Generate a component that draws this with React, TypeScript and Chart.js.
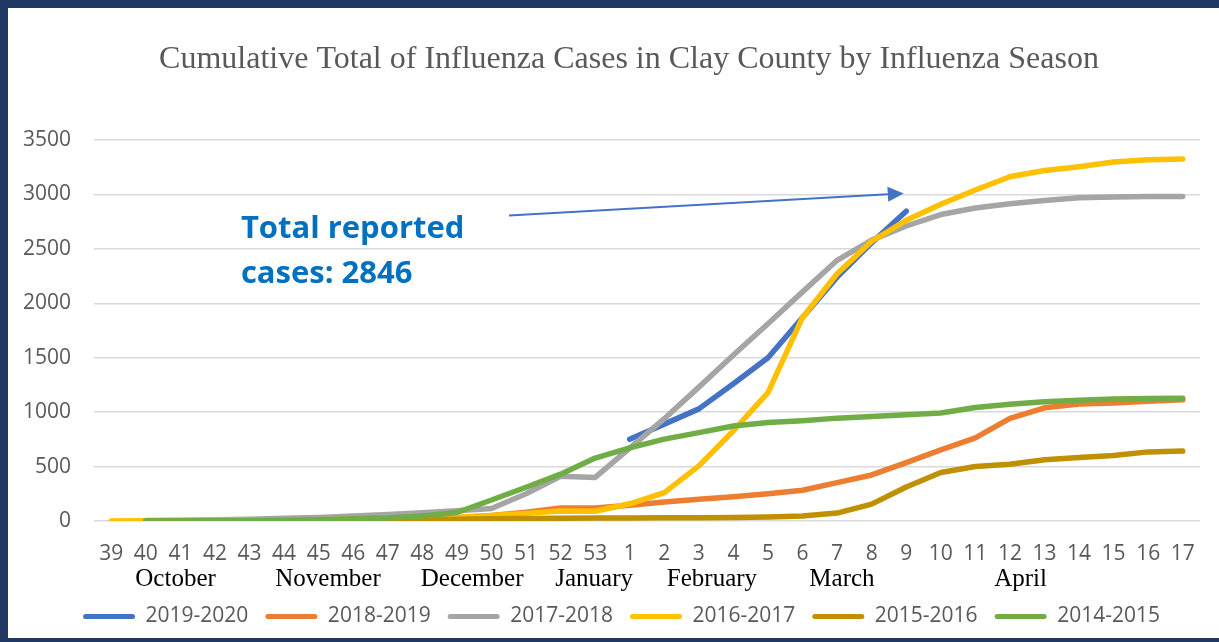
import React, { useEffect, useRef } from 'react';
import { Chart, registerables } from 'chart.js';

Chart.register(...registerables);

const weekLabels = [
  '39', '40', '41', '42', '43', '44', '45', '46', '47', '48', '49', '50', '51', '52', '53',
  '1', '2', '3', '4', '5', '6', '7', '8', '9', '10', '11', '12', '13', '14', '15', '16', '17',
];

const season2019 = [
  null, null, null, null, null, null, null, null, null, null, null, null, null, null, null,
  750, 890, 1030, 1260, 1500, 1870, 2240, 2555, 2846, null, null, null, null, null, null, null, null,
];
const season2018 = [
  null, 2, 3, 5, 6, 8, 10, 12, 15, 20, 30, 50, 80, 120, 120,
  145, 175, 200, 222, 250, 282, 352, 423, 537, 654, 763, 942, 1040, 1075, 1085, 1100, 1113,
];
const season2017 = [
  null, 5, 8, 12, 17, 25, 33, 45, 60, 75, 95, 115, 250, 410, 400,
  670, 940, 1230, 1525, 1812, 2105, 2395, 2580, 2710, 2815, 2875, 2915, 2945, 2970, 2977, 2980, 2982,
];
const season2016 = [
  0, 2, 4, 6, 8, 10, 12, 15, 18, 25, 35, 50, 70, 92, 90,
  158, 261, 506, 829, 1180, 1870, 2272, 2570, 2762, 2910, 3040, 3162, 3220, 3255, 3297, 3318, 3325,
];
const season2015 = [
  null, 0, 1, 2, 3, 4, 5, 6, 8, 10, 15, 20, 24, 26, 27,
  28, 29, 30, 33, 37, 46, 73, 155, 313, 445, 500, 522, 562, 583, 602, 635, 642,
];
const season2014 = [
  null, 0, 1, 2, 4, 8, 12, 20, 28, 45, 78, 193, 310, 430, 578,
  672, 752, 812, 872, 905, 922, 945, 960, 975, 992, 1042, 1073, 1095, 1110, 1120, 1125, 1128,
];

const seriesNames = ['2019-2020', '2018-2019', '2017-2018', '2016-2017', '2015-2016', '2014-2015'];
const seriesValues = [season2019, season2018, season2017, season2016, season2015, season2014];
const seriesColors = ['#4472C4', '#ED7D31', '#A5A5A5', '#FFC000', '#BF9000', '#70AD47'];

const yTickValues = [0, 500, 1000, 1500, 2000, 2500, 3000, 3500];

const titleText = 'Cumulative Total of Influenza Cases in Clay County by Influenza Season';

const monthNames = ['October', 'November', 'December', 'January', 'February', 'March', 'April'];
// positions expressed as (fractional) category indexes on the week axis
const monthPositions = [1.86, 6.27, 10.44, 13.97, 17.38, 21.14, 26.31];

const calloutLines = ['Total reported', 'cases: 2846'];
const calloutAnchor = { index: 3.75, value: 2597 };
const arrowFrom = { index: 11.51, value: 2806 };
const arrowTo = { index: 22.93, value: 3009 };

const TICK_FONT = "'Open Sans', 'DejaVu Sans', sans-serif";
const SERIF_FONT = "'Liberation Serif', 'DejaVu Serif', serif";

const overlayPlugin = {
  id: 'overlay',
  afterLayout(chart: any) {
    // the reference legend sits slightly right of the canvas centre
    if (chart.legend) {
      chart.legend.left += 10;
      chart.legend.right += 10;
    }
  },
  afterDatasetsDraw(chart: any) {
    const { ctx } = chart;
    const xs = chart.scales.x;
    const ys = chart.scales.y;
    ctx.save();
    // arrow
    const x1 = xs.getPixelForValue(arrowFrom.index);
    const y1 = ys.getPixelForValue(arrowFrom.value);
    const x2 = xs.getPixelForValue(arrowTo.index);
    const y2 = ys.getPixelForValue(arrowTo.value);
    const ang = Math.atan2(y2 - y1, x2 - x1);
    const head = 16;
    const hw = 7.5;
    const c = Math.cos(ang);
    const s = Math.sin(ang);
    ctx.strokeStyle = '#4472C4';
    ctx.fillStyle = '#4472C4';
    ctx.lineWidth = 2;
    ctx.beginPath();
    ctx.moveTo(x1, y1);
    ctx.lineTo(x2 - head * c, y2 - head * s);
    ctx.stroke();
    ctx.beginPath();
    ctx.moveTo(x2, y2);
    ctx.lineTo(x2 - head * c + hw * s, y2 - head * s - hw * c);
    ctx.lineTo(x2 - head * c - hw * s, y2 - head * s + hw * c);
    ctx.closePath();
    ctx.fill();
    // callout text
    ctx.font = `bold 31px ${TICK_FONT}`;
    ctx.fillStyle = '#0070C0';
    ctx.textAlign = 'left';
    ctx.textBaseline = 'alphabetic';
    const tx = xs.getPixelForValue(calloutAnchor.index);
    const ty = ys.getPixelForValue(calloutAnchor.value);
    calloutLines.forEach((t, i) => ctx.fillText(t, tx, ty + i * 45));
    ctx.restore();
  },
  afterDraw(chart: any) {
    const { ctx, chartArea } = chart;
    const xs = chart.scales.x;
    ctx.save();
    // month row
    ctx.font = `25px ${SERIF_FONT}`;
    ctx.fillStyle = '#000000';
    ctx.textAlign = 'center';
    ctx.textBaseline = 'alphabetic';
    monthNames.forEach((m, i) => {
      ctx.fillText(m, xs.getPixelForValue(monthPositions[i]), chartArea.bottom + 65);
    });
    // title
    ctx.font = `32px ${SERIF_FONT}`;
    ctx.fillStyle = '#595959';
    ctx.fillText(titleText, (chartArea.left + chartArea.right) / 2 - 18, 60);
    ctx.restore();
  },
};

export default function App() {
  const canvasRef = useRef<HTMLCanvasElement | null>(null);

  useEffect(() => {
    document.documentElement.style.overflow = 'hidden';
    document.body.style.margin = '0';
    document.body.style.overflow = 'hidden';
    const canvas = canvasRef.current;
    if (!canvas) return;

    const datasets = seriesNames.map((name, i) => ({
      label: name,
      data: seriesValues[i],
      borderColor: seriesColors[i],
      backgroundColor: seriesColors[i],
      borderWidth: 5.5,
      borderCapStyle: 'round' as const,
      borderJoinStyle: 'round' as const,
      pointRadius: 0,
      pointHoverRadius: 0,
      tension: 0,
      fill: false,
      spanGaps: false,
      order: seriesNames.length - 1 - i,
    }));

    const chart = new Chart(canvas, {
      type: 'line',
      data: { labels: weekLabels, datasets },
      options: {
        animation: false,
        responsive: false,
        maintainAspectRatio: false,
        layout: { padding: { left: 15, right: 19, top: 132, bottom: 1 } },
        plugins: {
          title: { display: false },
          legend: {
            display: true,
            position: 'bottom',
            labels: {
              color: '#595959',
              font: { family: TICK_FONT, size: 21 },
              boxWidth: 52,
              boxHeight: 5,
              padding: 17,
              sort: (a: any, b: any) => a.datasetIndex - b.datasetIndex,
              generateLabels: (ch: any) => {
                const items = (Chart as any).defaults.plugins.legend.labels.generateLabels(ch);
                return items.map((it: any) => ({
                  ...it,
                  fillStyle: seriesColors[it.datasetIndex],
                  strokeStyle: seriesColors[it.datasetIndex],
                  lineWidth: 0,
                  borderRadius: 2.5,
                }));
              },
            },
          },
          tooltip: { enabled: false },
        },
        scales: {
          x: {
            type: 'category',
            offset: true,
            grid: { display: false, drawTicks: false },
            border: { display: false },
            ticks: {
              color: '#595959',
              font: { family: TICK_FONT, size: 21 },
              padding: 20,
              maxRotation: 0,
              autoSkip: false,
            },
            afterFit: (scale: any) => {
              scale.height = 68;
            },
          },
          y: {
            min: 0,
            max: 3500,
            grid: { color: '#D9D9D9', lineWidth: 1.5, drawTicks: false },
            border: { display: false },
            afterBuildTicks: (scale: any) => {
              scale.ticks = yTickValues.map((v) => ({ value: v }));
            },
            afterFit: (scale: any) => {
              scale.width = 71;
            },
            ticks: {
              color: '#595959',
              font: { family: TICK_FONT, size: 21 },
              padding: 23,
              callback: (v: any) => String(v),
            },
          },
        },
      },
      plugins: [overlayPlugin],
    });

    return () => chart.destroy();
  }, []);

  return (
    <div
      style={{
        position: 'absolute',
        left: 0,
        top: 0,
        width: 1211,
        height: 630,
        border: '8px solid #203864',
        background: '#ffffff',
      }}
    >
      <canvas ref={canvasRef} width={1211} height={630} style={{ display: 'block' }} />
    </div>
  );
}
